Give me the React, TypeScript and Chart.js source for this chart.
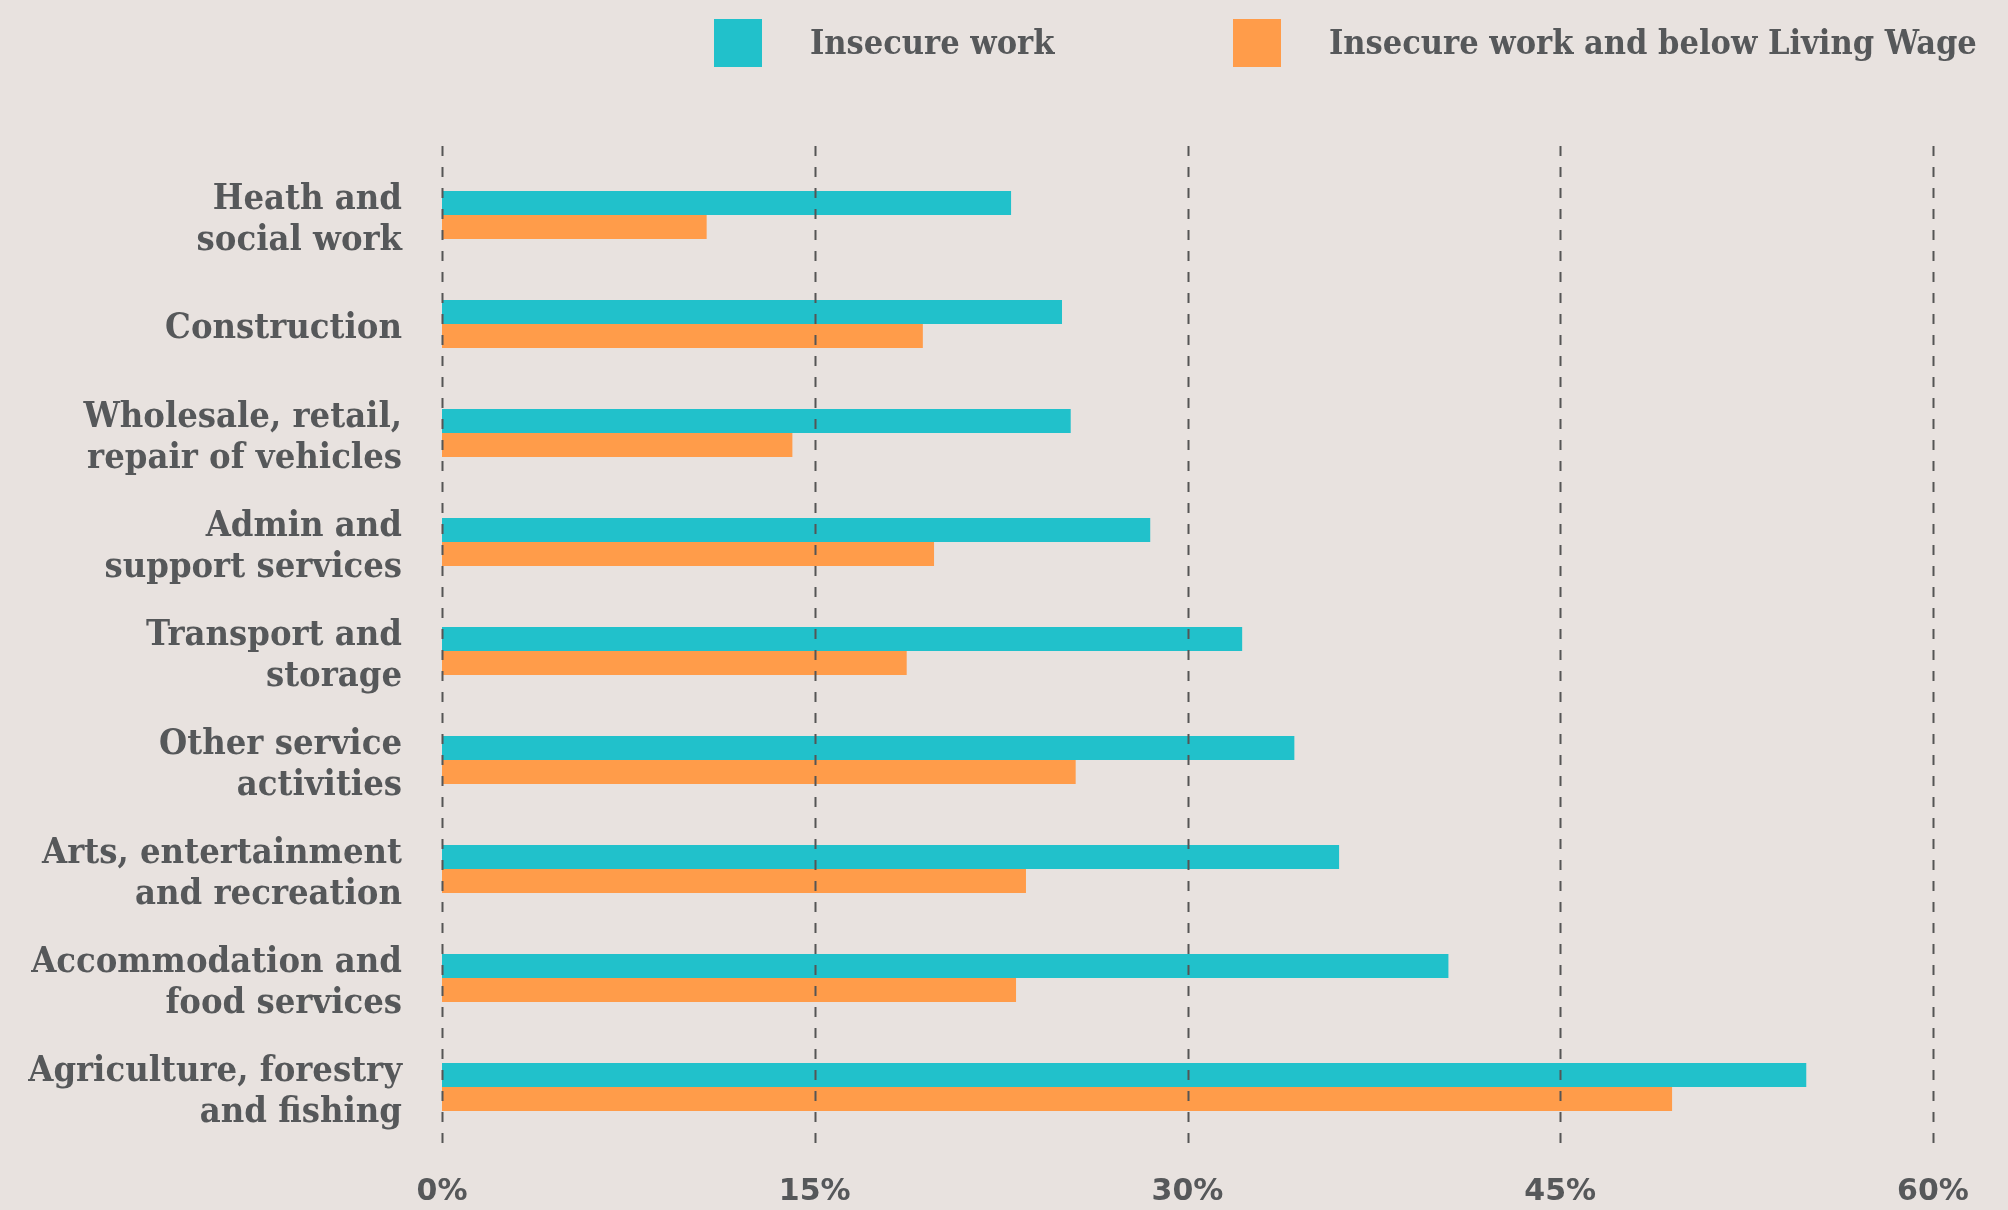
import React, { useEffect, useRef } from "react";
import { Chart, registerables } from "chart.js";

Chart.register(...registerables);

// ---- data ----
const categories: string[][] = [
  ["Heath and", "social work"],
  ["Construction"],
  ["Wholesale, retail,", "repair of vehicles"],
  ["Admin and", "support services"],
  ["Transport and", "storage"],
  ["Other service", "activities"],
  ["Arts, entertainment", "and recreation"],
  ["Accommodation and", "food services"],
  ["Agriculture, forestry", "and fishing"],
];
const insecureWork = [22.9, 24.95, 25.3, 28.5, 32.2, 34.3, 36.1, 40.5, 54.9];
const belowLivingWage = [10.65, 19.35, 14.1, 19.8, 18.7, 25.5, 23.5, 23.1, 49.5];
const seriesLabels = ["Insecure work", "Insecure work and below Living Wage"];
const xTicks = [0, 15, 30, 45, 60];

// ---- style ----
const BG = "#E8E2DF";
const TEAL = "#21C1CB";
const ORANGE = "#FF9C4A";
const TEXT = "#56585A";
const GRID = "#555555";
const LABEL_FONT = "'DejaVu Serif Condensed', 'DejaVu Serif', serif";
const TICK_FONT = "'DejaVu Sans', sans-serif";

const gridPlugin = {
  id: "dashedGrid",
  afterDatasetsDraw(chart: any) {
    const { ctx, scales } = chart;
    const x = scales.x;
    ctx.save();
    ctx.strokeStyle = GRID;
    ctx.lineWidth = 2;
    ctx.setLineDash([10, 11]);
    xTicks.forEach((t) => {
      const px = Math.round(x.getPixelForValue(t)) + 0.5;
      ctx.beginPath();
      ctx.moveTo(px, 146);
      ctx.lineTo(px, 1153);
      ctx.stroke();
    });
    ctx.restore();
  },
};

const legendBoxX = [714, 1233];
const legendPlugin = {
  id: "customLegend",
  afterDraw(chart: any) {
    const { ctx } = chart;
    ctx.save();
    chart.data.datasets.forEach((ds: any, i: number) => {
      const bx = legendBoxX[i];
      ctx.fillStyle = ds.backgroundColor;
      ctx.fillRect(bx, 19, 48, 48);
      ctx.fillStyle = TEXT;
      ctx.font = `bold 34px ${LABEL_FONT}`;
      ctx.textAlign = "left";
      ctx.textBaseline = "middle";
      ctx.fillText(ds.label, bx + 96, 45);
    });
    ctx.restore();
  },
};

export default function App() {
  const ref = useRef<HTMLCanvasElement | null>(null);
  useEffect(() => {
    if (!ref.current) return;
    const chart = new Chart(ref.current, {
      type: "bar",
      data: {
        labels: categories,
        datasets: [
          {
            label: seriesLabels[0],
            data: insecureWork,
            backgroundColor: TEAL,
            categoryPercentage: 0.44,
            barPercentage: 1.0,
          },
          {
            label: seriesLabels[1],
            data: belowLivingWage,
            backgroundColor: ORANGE,
            categoryPercentage: 0.44,
            barPercentage: 1.0,
          },
        ],
      },
      options: {
        indexAxis: "y",
        responsive: false,
        maintainAspectRatio: false,
        animation: false,
        layout: { padding: { top: 160.5, right: 75, left: 0, bottom: 0 } },
        plugins: {
          legend: { display: false },
          tooltip: { enabled: false },
        },
        scales: {
          x: {
            type: "linear",
            min: 0,
            max: 60,
            afterBuildTicks: (scale: any) => {
              scale.ticks = xTicks.map((v) => ({ value: v }));
            },
            ticks: {
              callback: (v: any) => `${v}%`,
              color: TEXT,
              font: { family: TICK_FONT, size: 30, weight: "bold" },
              padding: 33,
            },
            grid: { display: false, drawTicks: false },
            border: { display: false },
            afterFit: (scale: any) => {
              scale.height = 68.5;
              scale.paddingLeft = 0;
              scale.paddingRight = 0;
            },
          },
          y: {
            type: "category",
            ticks: {
              color: TEXT,
              font: { family: LABEL_FONT, size: 36, weight: "bold", lineHeight: 1.14 },
              padding: 40,
              labelOffset: 5,
              autoSkip: false,
            },
            grid: { display: false, drawTicks: false },
            border: { display: false },
            afterFit: (scale: any) => {
              scale.width = 442;
              scale.paddingTop = 0;
              scale.paddingBottom = 0;
            },
          },
        },
      },
      plugins: [gridPlugin, legendPlugin],
    } as any);
    return () => chart.destroy();
  }, []);

  return (
    <div
      style={{
        position: "fixed",
        left: 0,
        top: 0,
        width: 2008,
        height: 1210,
        background: BG,
      }}
    >
      <canvas ref={ref} width={2008} height={1210} style={{ display: "block" }} />
    </div>
  );
}
